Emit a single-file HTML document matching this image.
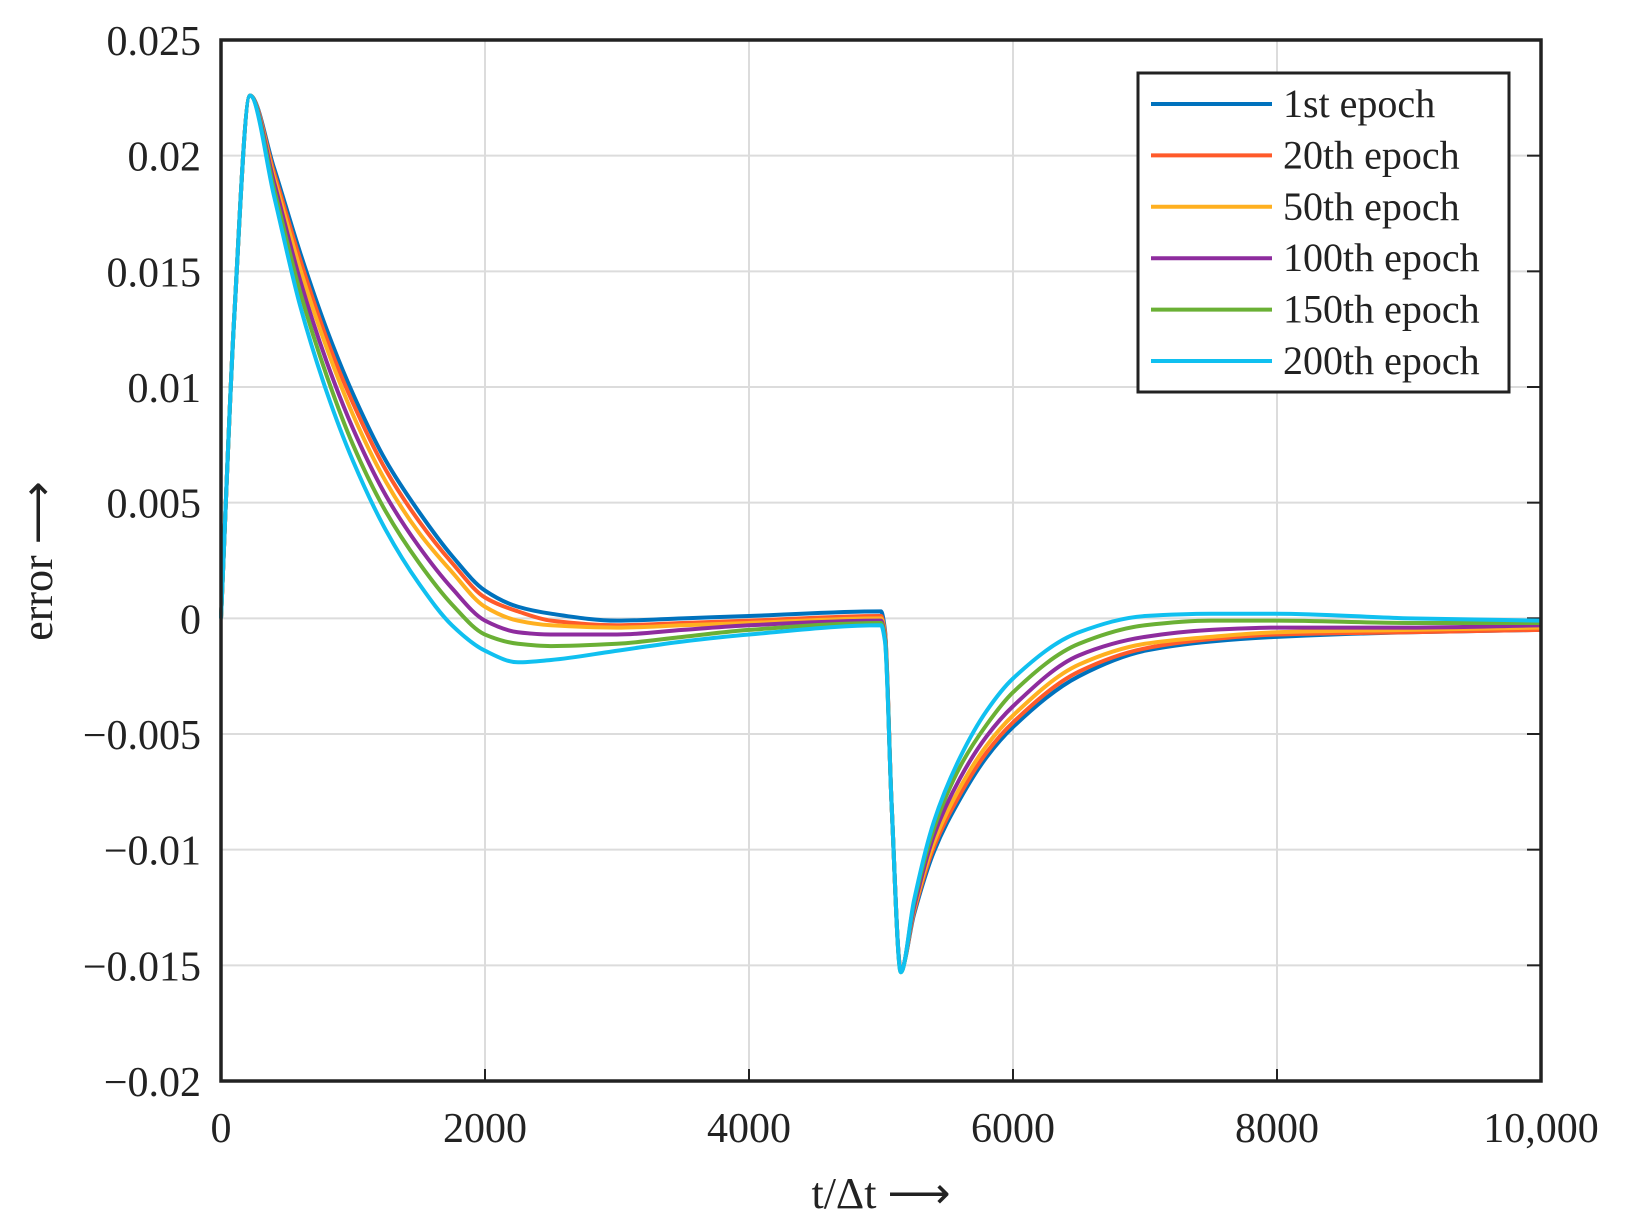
<!DOCTYPE html>
<html><head><meta charset="utf-8"><style>html,body{margin:0;padding:0;background:#fff}svg{display:block}text{font-family:"Liberation Serif",serif;fill:#222}</style></head>
<body>
<svg id="chart" width="1626" height="1226" viewBox="0 0 1626 1226" xmlns="http://www.w3.org/2000/svg">
<g id="grid"></g>
<g id="series"></g>
<rect x="221" y="40" width="1320" height="1041" fill="none" stroke="#222" stroke-width="3.5"/>
<g id="ticks"></g>
<text x="881" y="1208" font-size="44" text-anchor="middle">t/Δt ⟶</text>
<text x="0" y="0" font-size="44" text-anchor="middle" transform="translate(52,561) rotate(-90)">error ⟶</text>
<g id="legend"></g>
</svg>
<script>
const tPoints=[0,100,220,400,600,800,1000,1250,1500,1750,2000,2250,2500,3000,3500,4000,5000,5030,5080,5150,5250,5400,5600,5800,6000,6500,7000,7500,8000,9000,10000];
const seriesNames=["1st epoch","20th epoch","50th epoch","100th epoch","150th epoch","200th epoch"];
const s1=[0,.013,.0226,.0195,.0158,.0125,.0097,.0068,.0046,.0027,.0012,.0005,.0002,-.0001,0,.0001,.0003,-.0005,-.008,-.0152,-.0128,-.0101,-.0078,-.006,-.0047,-.0025,-.0014,-.0010,-.0008,-.0006,-.0005];
const s20=[0,.013,.0226,.0193,.0155,.0121,.0093,.0064,.0042,.0024,.0009,.0003,-.0001,-.0003,-.0002,-.0001,.0001,-.0006,-.008,-.0152,-.0127,-.0099,-.0076,-.0058,-.0045,-.0023,-.0013,-.0009,-.0007,-.0006,-.0005];
const s50=[0,.013,.0226,.0191,.0151,.0117,.0088,.0059,.0037,.0020,.0005,-.0001,-.0003,-.0004,-.0003,-.0002,0,-.0007,-.008,-.0152,-.0126,-.0097,-.0073,-.0055,-.0042,-.0020,-.0011,-.0008,-.0006,-.0005,-.0004];
const s100=[0,.013,.0226,.0189,.0146,.0111,.0082,.0053,.0031,.0013,-.0001,-.0006,-.0007,-.0007,-.0005,-.0003,-.0001,-.0008,-.008,-.0152,-.0125,-.0094,-.0069,-.0051,-.0038,-.0016,-.0008,-.0005,-.0004,-.0004,-.0003];
const s150=[0,.013,.0226,.0186,.0141,.0105,.0075,.0046,.0024,.0006,-.0007,-.0011,-.0012,-.0011,-.0008,-.0005,-.0002,-.0009,-.008,-.0153,-.0123,-.0091,-.0064,-.0046,-.0032,-.0011,-.0003,-.0001,-.0001,-.0002,-.0002];
const s200=[0,.013,.0226,.0183,.0135,.0098,.0068,.0038,.0015,-.0003,-.0014,-.0019,-.0018,-.0014,-.0010,-.0007,-.0003,-.0010,-.008,-.0153,-.0122,-.0088,-.006,-.004,-.0026,-.0006,.0001,.0002,.0002,0,-.0001];
const xTicks=[0,2000,4000,6000,8000,10000];
const xTickLabels=["0","2000","4000","6000","8000","10,000"];
const yTicks=[0.025,0.02,0.015,0.01,0.005,0,-0.005,-0.01,-0.015,-0.02];
const yTickLabels=["0.025","0.02","0.015","0.01","0.005","0","\u22120.005","\u22120.01","\u22120.015","\u22120.02"];
const allSeries=[s1,s20,s50,s100,s150,s200];
const colors=["#0072BD","#FF5A2A","#FFB020","#8E2C9E","#6AB035","#10C0F0"];
const NS="http://www.w3.org/2000/svg";
const X0=221,X1=1541,Y0=1081,Y1=40;
function xs(t){return X0+(t-0)/10000*(X1-X0);}
function ys(v){return Y0-(v+0.02)/0.045*(Y0-Y1);}
function mk(tag,attrs,parent){const e=document.createElementNS(NS,tag);for(const k in attrs)e.setAttribute(k,attrs[k]);parent.appendChild(e);return e;}
const grid=document.getElementById('grid'),ticks=document.getElementById('ticks'),ser=document.getElementById('series'),leg=document.getElementById('legend');
xTicks.forEach((t,i)=>{
 const g=mk('line',{x1:xs(t),x2:xs(t),y1:Y1,y2:Y0,stroke:'#dcdcdc','stroke-width':2},grid);
 
 
 const tk=mk('line',{x1:xs(t),x2:xs(t),y1:Y0,y2:Y0-12,stroke:'#222','stroke-width':2},grid);
 
 
 const lb=mk('text',{x:xs(t),y:1142,'font-size':42,'text-anchor':'middle'},ticks);
 lb.textContent=xTickLabels[i];
 
 
});
yTicks.forEach((v,i)=>{
 const g=mk('line',{x1:X0,x2:X1,y1:ys(v),y2:ys(v),stroke:'#dcdcdc','stroke-width':2},grid);
 
 
 const tk=mk('line',{x1:X1,x2:X1-14,y1:ys(v),y2:ys(v),stroke:'#222','stroke-width':2},grid);
 
 
 const lb=mk('text',{x:201,y:ys(v)+15,'font-size':42,'text-anchor':'end'},ticks);
 lb.textContent=yTickLabels[i];
 
 
});
function pathFor(vals){
 const x=tPoints.map(xs),y=vals.map(ys),n=x.length;
 const d=[],m=[];
 for(let i=0;i<n-1;i++)d.push((y[i+1]-y[i])/(x[i+1]-x[i]));
 for(let i=0;i<n;i++){
  if(i===0)m.push(d[0]);else if(i===n-1)m.push(d[n-2]);
  else if(d[i-1]*d[i]<=0)m.push(0);
  else{const h0=x[i]-x[i-1],h1=x[i+1]-x[i];const w1=2*h1+h0,w2=h1+2*h0;m.push((w1+w2)/(w1/d[i-1]+w2/d[i]));}
 }
 let s='M'+x[0]+','+y[0];
 for(let i=0;i<n-1;i++){
  const h=(x[i+1]-x[i])/3;
  s+=' C'+(x[i]+h)+','+(y[i]+m[i]*h)+' '+(x[i+1]-h)+','+(y[i+1]-m[i+1]*h)+' '+x[i+1]+','+y[i+1];
 }
 return s;
}
allSeries.forEach((vals,i)=>{
 const pth=mk('path',{d:pathFor(vals),fill:'none',stroke:colors[i],'stroke-width':4,'stroke-linejoin':'round'},ser);
 
 
});
const box=mk('rect',{x:1138,y:73,width:371,height:319,fill:'#fff',stroke:'#222','stroke-width':3},leg);


seriesNames.forEach((n,i)=>{
 const y=104+i*51.4;
 const ln=mk('line',{x1:1151,x2:1272,y1:y,y2:y,stroke:colors[i],'stroke-width':4},leg);
 
 
 const tx=mk('text',{x:1283,y:y+13,'font-size':40},leg);
 tx.textContent=n;
 
 
});
</script>
</body></html>
